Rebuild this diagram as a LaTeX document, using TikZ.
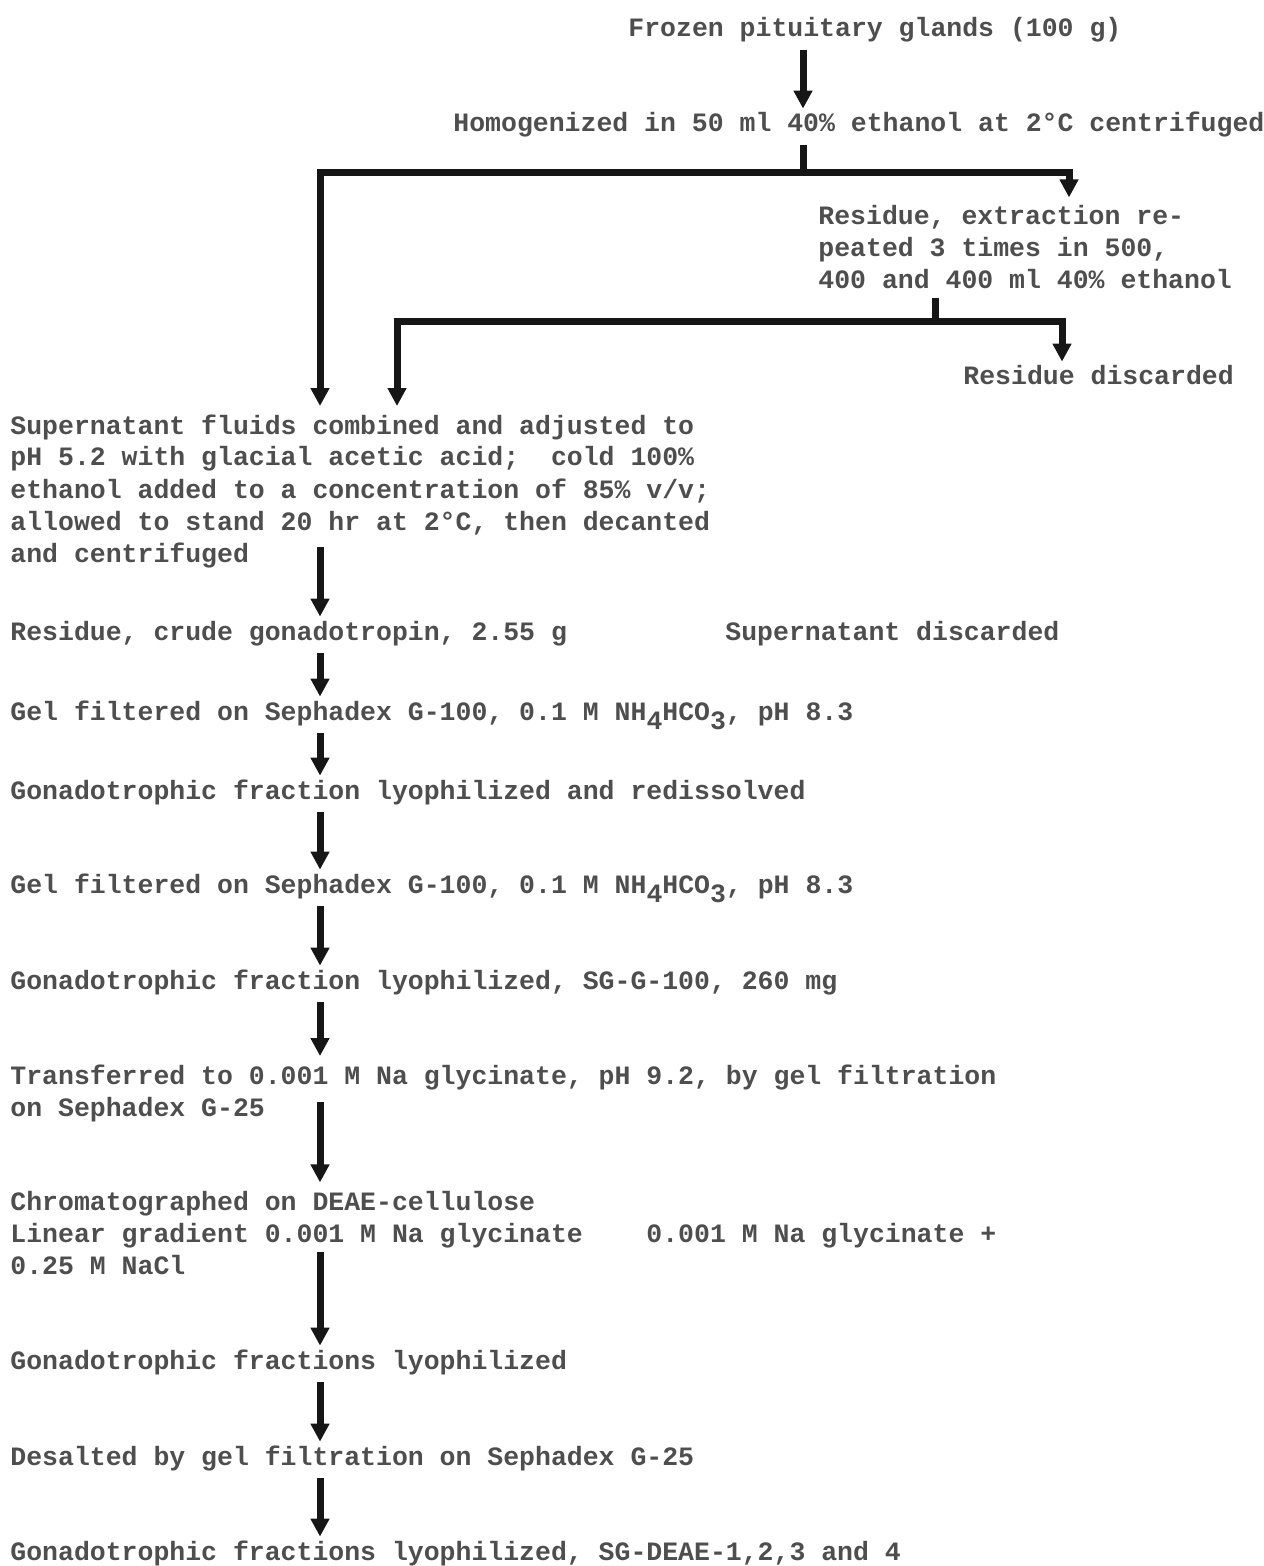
\documentclass[tikz,border=0pt]{standalone}
\usepackage{fontspec}
\newfontfamily\typewriter{Liberation Mono}
\definecolor{inkgray}{RGB}{78,78,78}
\definecolor{arrowblk}{RGB}{22,22,22}
\usetikzlibrary{arrows.meta}
\newcommand{\lowsub}[1]{\raisebox{-4.5pt}{#1}}

\begin{document}
\begin{tikzpicture}[x=0.5pt,y=-0.5pt,
  stage/.style={anchor=base west,inner xsep=0pt,inner ysep=4pt,text height=7.5pt,text depth=2.5pt,
    font=\typewriter\bfseries\fontsize{13.25pt}{16pt}\selectfont,text=inkgray},
  block/.style={anchor=base west,inner xsep=0pt,inner ysep=4pt,align=left,
    font=\typewriter\bfseries\fontsize{13.25pt}{16pt}\selectfont,text=inkgray},
  rail/.style={draw=arrowblk,line width=3.5pt},
  flow/.style={rail,-{Triangle[length=9pt,width=9pt]}}
]
  \useasboundingbox (0,0) rectangle (1263,1566);
  % columns and junctions
  \coordinate (spine) at (320,0);
  \coordinate (colA) at (803,0);
  \coordinate (colR) at (1069,0);
  \coordinate (colB) at (397,0);
  \coordinate (colD) at (1062,0);
  \coordinate (jA) at (803,173);
  \coordinate (jB) at (935,322);
  % extraction (blocks sit on their last line)
  \node[stage] (frozen) at (628,37) {Frozen pituitary glands (100 g)};
  \node[stage] (homog) at (453,132) {Homogenized in 50 ml 40\% ethanol at 2°C centrifuged};
  \node[block] (residue) at (818,289) {Residue, extraction re-\\peated 3 times in 500,\\400 and 400 ml 40\% ethanol};
  \node[stage] (discarded) at (963,385) {Residue discarded};
  \node[block] (super) at (10,562) {Supernatant fluids combined and adjusted to\\
    pH 5.2 with glacial acetic acid;\ \ cold 100\%\\
    ethanol added to a concentration of 85\% v/v;\\
    allowed to stand 20 hr at 2°C, then decanted\\
    and centrifuged};
  % precipitate
  \node[stage] (crude) at (10,640) {Residue, crude gonadotropin, 2.55 g};
  \node[stage] (supdisc) at (725,640) {Supernatant discarded};
  % gel filtrations
  \node[stage] (gel1) at (10,720) {Gel filtered on Sephadex G-100, 0.1 M NH\lowsub{4}HCO\lowsub{3}, pH 8.3};
  \node[stage] (gona1) at (10,799) {Gonadotrophic fraction lyophilized and redissolved};
  \node[stage] (gel2) at (10,893) {Gel filtered on Sephadex G-100, 0.1 M NH\lowsub{4}HCO\lowsub{3}, pH 8.3};
  \node[stage] (gona2) at (10,989) {Gonadotrophic fraction lyophilized, SG-G-100, 260 mg};
  \node[block] (trans) at (10,1116) {Transferred to 0.001 M Na glycinate, pH 9.2, by gel filtration\\on Sephadex G-25};
  % ion exchange
  \node[block] (chrom) at (10,1274) {Chromatographed on DEAE-cellulose\\
    Linear gradient 0.001 M Na glycinate\ \ \ \ 0.001 M Na glycinate +\\
    0.25 M NaCl};
  \node[stage] (gonas) at (10,1369) {Gonadotrophic fractions lyophilized};
  \node[stage] (desalt) at (10,1465) {Desalted by gel filtration on Sephadex G-25};
  \node[stage] (final) at (10,1560) {Gonadotrophic fractions lyophilized, SG-DEAE-1,2,3 and 4};
  % connectors
  \draw[flow] (frozen.south -| colA) -- (homog.north -| colA);
  \draw[rail] (homog.south -| jA) -- (jA);
  \draw[flow] (jA) -| (residue.north -| colR);
  \draw[flow] (jA) -| (super.north -| spine);
  \draw[rail] (residue.south -| jB) -- (jB);
  \draw[flow] (jB) -| (discarded.north -| colD);
  \draw[flow] (jB) -| (super.north -| colB);
  \draw[flow] ([yshift=7.5pt]super.base -| spine) -- (crude.north -| spine);
  \draw[flow] (crude.south -| spine) -- (gel1.north -| spine);
  \draw[flow] (gel1.south -| spine) -- (gona1.north -| spine);
  \draw[flow] (gona1.south -| spine) -- (gel2.north -| spine);
  \draw[flow] (gel2.south -| spine) -- (gona2.north -| spine);
  \draw[flow] (gona2.south -| spine) -- (trans.north -| spine);
  \draw[flow] ([yshift=7pt]trans.base -| spine) -- (chrom.north -| spine);
  \draw[flow] ([yshift=11pt]chrom.base -| spine) -- (gonas.north -| spine);
  \draw[flow] (gonas.south -| spine) -- (desalt.north -| spine);
  \draw[flow] (desalt.south -| spine) -- (final.north -| spine);
\end{tikzpicture}
\end{document}
